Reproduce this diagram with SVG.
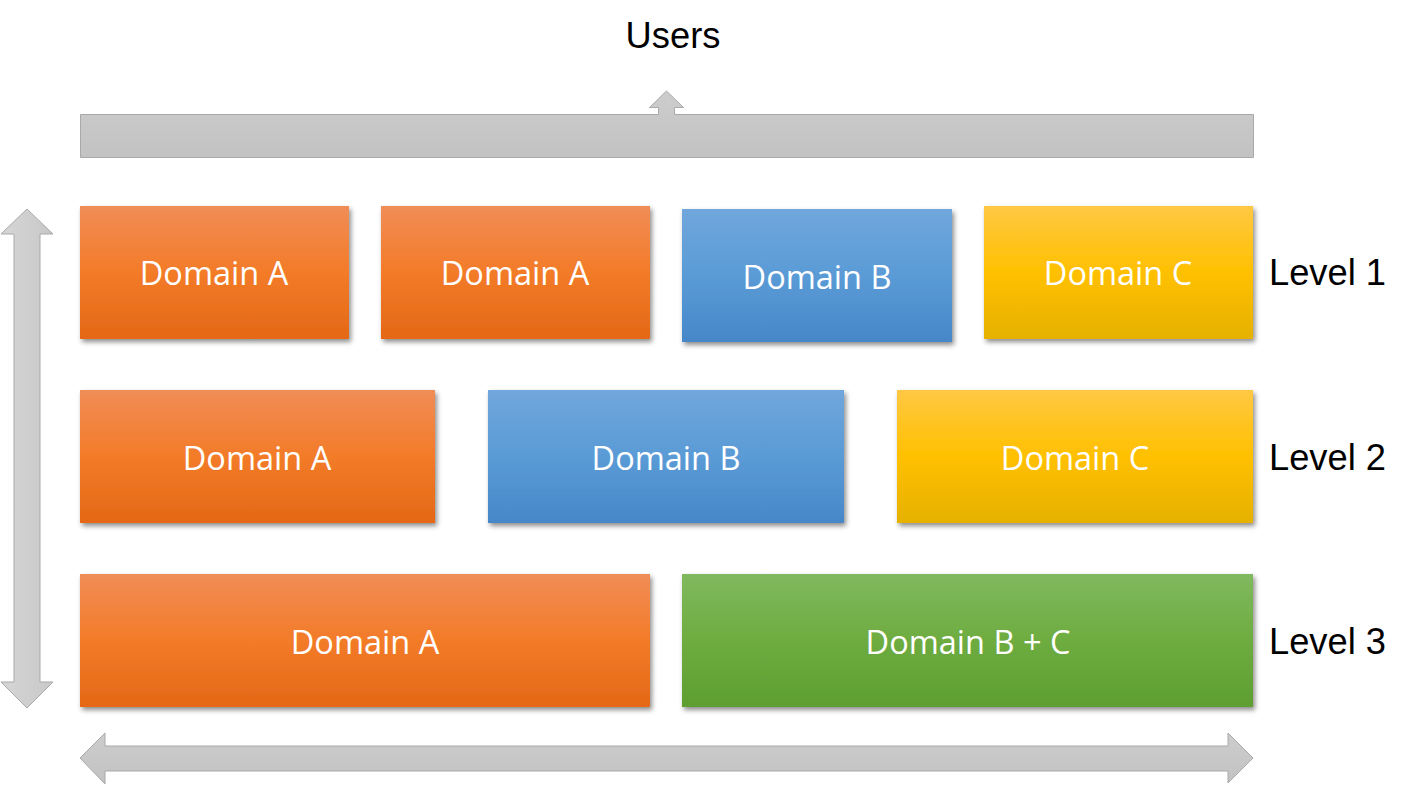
<svg xmlns="http://www.w3.org/2000/svg" width="1413" height="786" viewBox="0 0 1413 786">
<defs>
<linearGradient id="gOr" x1="0" y1="0" x2="0" y2="1"><stop offset="0" stop-color="#F08D57"/><stop offset="0.5" stop-color="#F37B28"/><stop offset="1" stop-color="#E46816"/></linearGradient>
<linearGradient id="gBl" x1="0" y1="0" x2="0" y2="1"><stop offset="0" stop-color="#70A7DC"/><stop offset="0.5" stop-color="#5A9BD6"/><stop offset="1" stop-color="#4687C9"/></linearGradient>
<linearGradient id="gYe" x1="0" y1="0" x2="0" y2="1"><stop offset="0" stop-color="#FFC843"/><stop offset="0.5" stop-color="#FFC000"/><stop offset="1" stop-color="#E6B100"/></linearGradient>
<linearGradient id="gGr" x1="0" y1="0" x2="0" y2="1"><stop offset="0" stop-color="#80B95E"/><stop offset="0.5" stop-color="#6EAC40"/><stop offset="1" stop-color="#5E9E31"/></linearGradient>
<linearGradient id="gGy" x1="0" y1="0" x2="0" y2="1"><stop offset="0" stop-color="#CDCDCD"/><stop offset="1" stop-color="#C2C2C2"/></linearGradient>
<linearGradient id="gGyH" x1="0" y1="0" x2="1" y2="0"><stop offset="0" stop-color="#D6D6D6"/><stop offset="1" stop-color="#C8C8C8"/></linearGradient>
<filter id="sh" x="-5%" y="-10%" width="115%" height="130%"><feDropShadow dx="2" dy="3" stdDeviation="2.5" flood-color="#000" flood-opacity="0.45"/></filter>
</defs>
<style>
.bt{font-family:"Open Sans","Noto Sans","DejaVu Sans",sans-serif;font-size:32.5px;fill:#fff;text-anchor:middle}
.lt{font-family:"Liberation Sans",Arial,sans-serif;font-size:36.3px;fill:#000}
.ar{stroke:#A9A9A9;stroke-width:1}
</style>
<g id="connectors">
<path class="ar" fill="url(#gGy)" d="M80.5,114.5 H658.5 V107.5 H649.5 L666.5,91 L683.5,107.5 H674.5 V114.5 H1253.5 V157.5 H80.5 Z"/>
<path class="ar" fill="url(#gGyH)" d="M27,209 L53,234 H40 V682 H53 L27,708 L1,682 H14 V234 H1 Z"/>
<path class="ar" fill="url(#gGy)" d="M80,758 L105,733 V746 H1228 V733 L1253,758 L1228,783 V771 H105 V784 Z"/>
</g>
<text class="lt" x="673" y="48" text-anchor="middle">Users</text>
<g id="l1a1"><rect x="80" y="206" width="269" height="133" fill="url(#gOr)" filter="url(#sh)"/><text class="bt" x="214" y="285">Domain A</text></g>
<g id="l1a2"><rect x="381" y="206" width="269" height="133" fill="url(#gOr)" filter="url(#sh)"/><text class="bt" x="515" y="285">Domain A</text></g>
<g id="l1b"><rect x="682" y="209" width="270" height="133" fill="url(#gBl)" filter="url(#sh)"/><text class="bt" x="817" y="289">Domain B</text></g>
<g id="l1c"><rect x="984" y="206" width="269" height="133" fill="url(#gYe)" filter="url(#sh)"/><text class="bt" x="1118" y="285">Domain C</text></g>
<g id="l2a"><rect x="80" y="390" width="355" height="133" fill="url(#gOr)" filter="url(#sh)"/><text class="bt" x="257" y="470">Domain A</text></g>
<g id="l2b"><rect x="488" y="390" width="356" height="133" fill="url(#gBl)" filter="url(#sh)"/><text class="bt" x="666" y="470">Domain B</text></g>
<g id="l2c"><rect x="897" y="390" width="356" height="133" fill="url(#gYe)" filter="url(#sh)"/><text class="bt" x="1075" y="470">Domain C</text></g>
<g id="l3a"><rect x="80" y="574" width="570" height="133" fill="url(#gOr)" filter="url(#sh)"/><text class="bt" x="365" y="654">Domain A</text></g>
<g id="l3bc"><rect x="682" y="574" width="571" height="133" fill="url(#gGr)" filter="url(#sh)"/><text class="bt" x="968" y="654">Domain B + C</text></g>
<text class="lt" x="1269" y="285">Level 1</text>
<text class="lt" x="1269" y="470">Level 2</text>
<text class="lt" x="1269" y="654">Level 3</text>
</svg>
